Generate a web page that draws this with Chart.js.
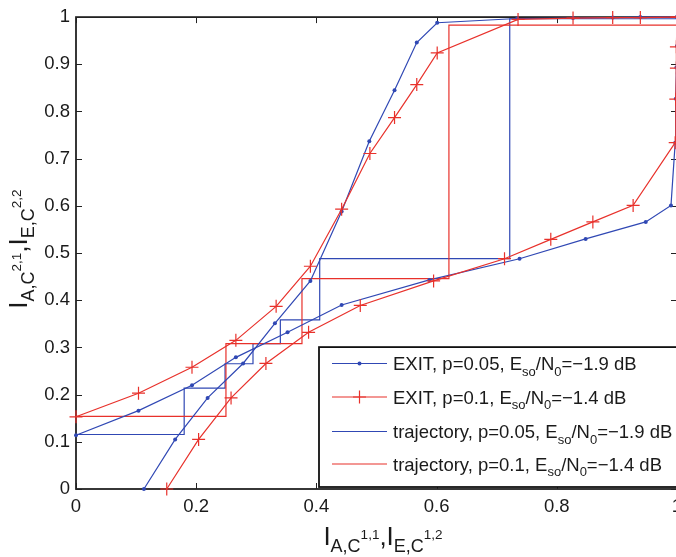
<!DOCTYPE html>
<html>
<head>
<meta charset="utf-8">
<script src="https://cdn.jsdelivr.net/npm/chart.js@4.4.1/dist/chart.umd.min.js"></script>
<style>
  html, body { margin: 0; padding: 0; background: #fff; }
  #wrap { width: 676px; height: 557px; overflow: hidden; }
  canvas { display: block; }
</style>
</head>
<body>
<div id="wrap"><canvas id="exitChart" width="700" height="557"></canvas></div>
<script>
// --- data ---
// EXIT curves, p = 0.05 (Eso/N0 = -1.9 dB)
const blueOuterX = [0, 0.104, 0.193, 0.266, 0.352, 0.442, 0.588, 0.738, 0.848, 0.948, 0.99, 0.997, 0.998, 0.999, 1.0, 1.0];
const blueOuterY = [0.114, 0.166, 0.22, 0.279, 0.332, 0.39, 0.443, 0.488, 0.53, 0.566, 0.601, 0.734, 0.827, 0.893, 0.939, 1.0];
const blueInnerX = [0.113, 0.165, 0.219, 0.278, 0.331, 0.39, 0.442, 0.488, 0.53, 0.567, 0.601, 0.734, 0.827, 0.893, 0.939, 1.0];
const blueInnerY = [0, 0.105, 0.193, 0.266, 0.351, 0.441, 0.588, 0.737, 0.845, 0.946, 0.988, 0.997, 0.998, 0.999, 1.0, 1.0];

// EXIT curves, p = 0.1 (Eso/N0 = -1.4 dB)
const redOuterX = [0, 0.104, 0.193, 0.266, 0.333, 0.39, 0.442, 0.489, 0.53, 0.567, 0.601, 0.7355, 0.827, 0.893, 0.939, 1.0];
const redOuterY = [0.153, 0.203, 0.258, 0.315, 0.387, 0.472, 0.593, 0.711, 0.787, 0.857, 0.924, 0.995, 0.998, 0.999, 0.999, 1.0];
const redInnerX = [0.151, 0.204, 0.258, 0.316, 0.387, 0.473, 0.595, 0.713, 0.79, 0.86, 0.927, 0.997, 0.998, 0.999, 0.999, 1.0];
const redInnerY = [0, 0.105, 0.193, 0.266, 0.332, 0.389, 0.441, 0.488, 0.529, 0.566, 0.601, 0.734, 0.826, 0.892, 0.937, 1.0];

// decoding trajectories (staircase)
const blueTrajX = [0, 0.18, 0.18, 0.248, 0.248, 0.2945, 0.2945, 0.34, 0.34, 0.4055, 0.4055, 0.7217, 0.7217, 1.0];
const blueTrajY = [0.1155, 0.1155, 0.2136, 0.2136, 0.2654, 0.2654, 0.308, 0.308, 0.3585, 0.3585, 0.488, 0.488, 0.9965, 0.9965];
const redTrajX = [0, 0.2495, 0.2495, 0.376, 0.376, 0.6205, 0.6205, 1.0];
const redTrajY = [0.154, 0.154, 0.308, 0.308, 0.446, 0.446, 0.983, 0.983];

const xTicks = [0, 0.2, 0.4, 0.6, 0.8, 1];
const yTicks = [0, 0.1, 0.2, 0.3, 0.4, 0.5, 0.6, 0.7, 0.8, 0.9, 1];

// rich-text labels: [text, kind]
const xTitle = [['I'], ['A,C', 'sub'], ['1,1', 'subsup'], [',I'], ['E,C', 'sub'], ['1,2', 'subsup']];
const yTitle = [['I'], ['A,C', 'sub'], ['2,1', 'subsup'], [',I'], ['E,C', 'sub'], ['2,2', 'subsup']];
const legendLabels = [
    [['EXIT, p=0.05, E'], ['so', 'sub'], ['/N'], ['0', 'sub'], ['=\u22121.9 dB']],
    [['EXIT, p=0.1, E'], ['so', 'sub'], ['/N'], ['0', 'sub'], ['=\u22121.4 dB']],
    [['trajectory, p=0.05, E'], ['so', 'sub'], ['/N'], ['0', 'sub'], ['=\u22121.9 dB']],
    [['trajectory, p=0.1, E'], ['so', 'sub'], ['/N'], ['0', 'sub'], ['=\u22121.4 dB']]
];

const BLUE = '#3048b4';
const RED = '#e8312b';
const FONT = '"Liberation Sans", Arial, Helvetica, sans-serif';

const toPoints = (xs, ys) => xs.map((x, i) => ({ x: x, y: ys[i] }));

// --- rich text helpers ---
const legendKinds = {
    main: { size: 18.5, dy: 0 },
    sub: { size: 13, dy: 5.5 }
};
const titleKinds = {
    main: { size: 26, dy: 0 },
    sub: { size: 18, dy: 7 },
    subsup: { size: 13.5, dy: -6 }
};

function richWidth(ctx, parts, kinds) {
    let w = 0;
    parts.forEach(([t, k]) => {
        ctx.font = kinds[k || 'main'].size + 'px ' + FONT;
        w += ctx.measureText(t).width;
    });
    return w;
}

function drawRich(ctx, parts, kinds, x, y, align) {
    let cx = align === 'center' ? x - richWidth(ctx, parts, kinds) / 2 : x;
    ctx.textAlign = 'left';
    ctx.textBaseline = 'alphabetic';
    parts.forEach(([t, k]) => {
        const kind = kinds[k || 'main'];
        ctx.font = kind.size + 'px ' + FONT;
        ctx.fillText(t, cx, y + kind.dy);
        cx += ctx.measureText(t).width;
    });
}

// --- axes frame with inward ticks on all four sides ---
const framePlugin = {
    id: 'frame',
    beforeDatasetsDraw(chart) {
        const { ctx, chartArea: a, scales } = chart;
        ctx.save();
        ctx.strokeStyle = '#222';
        ctx.lineWidth = 1;
        const len = 6;
        ctx.beginPath();
        xTicks.forEach(v => {
            const px = Math.round(scales.x.getPixelForValue(v)) + 0.5;
            ctx.moveTo(px, a.bottom); ctx.lineTo(px, a.bottom - len);
            ctx.moveTo(px, a.top); ctx.lineTo(px, a.top + len);
        });
        yTicks.forEach(v => {
            const py = Math.round(scales.y.getPixelForValue(v)) + 0.5;
            ctx.moveTo(a.left, py); ctx.lineTo(a.left + len, py);
            ctx.moveTo(a.right, py); ctx.lineTo(a.right - len, py);
        });
        ctx.stroke();
        ctx.lineWidth = 1.8;
        ctx.strokeRect(a.left, a.top, a.right - a.left, a.bottom - a.top);
        ctx.restore();
    },
    afterDraw(chart) {
        const { ctx, chartArea: a } = chart;
        ctx.save();
        ctx.fillStyle = '#1a1a1a';
        // x-axis title
        drawRich(ctx, xTitle, titleKinds, 383, a.bottom + 56, 'center');
        // y-axis title, rotated
        ctx.translate(a.left - 49, (a.top + a.bottom) / 2 - 4);
        ctx.rotate(-Math.PI / 2);
        drawRich(ctx, yTitle, titleKinds, 0, 0, 'center');
        ctx.restore();
    }
};

// --- legend box with sub/superscript labels ---
const legendPlugin = {
    id: 'richLegend',
    afterDatasetsDraw(chart) {
        const { ctx, chartArea: a } = chart;
        const box = { left: a.left + 243, top: a.top + 330, bottom: a.bottom - 2 };
        ctx.save();
        ctx.fillStyle = '#fff';
        ctx.fillRect(box.left, box.top, 400, box.bottom - box.top);
        ctx.strokeStyle = '#111';
        ctx.lineWidth = 1.8;
        ctx.strokeRect(box.left, box.top, 400, box.bottom - box.top);

        const rowY = [363.5, 397, 431.5, 464];
        const styles = [
            { color: BLUE, marker: 'dot' },
            { color: RED, marker: 'cross' },
            { color: BLUE, marker: null },
            { color: RED, marker: null }
        ];
        const x1 = box.left + 13, x2 = box.left + 68;
        legendLabels.forEach((parts, i) => {
            const y = rowY[i];
            const s = styles[i];
            ctx.strokeStyle = s.color;
            ctx.lineWidth = 1.2;
            ctx.beginPath();
            ctx.moveTo(x1, y); ctx.lineTo(x2, y);
            ctx.stroke();
            const mx = (x1 + x2) / 2;
            if (s.marker === 'dot') {
                ctx.fillStyle = s.color;
                ctx.beginPath();
                ctx.arc(mx, y, 2, 0, Math.PI * 2);
                ctx.fill();
            } else if (s.marker === 'cross') {
                ctx.beginPath();
                ctx.moveTo(mx - 6.5, y); ctx.lineTo(mx + 6.5, y);
                ctx.moveTo(mx, y - 6.5); ctx.lineTo(mx, y + 6.5);
                ctx.stroke();
            }
            ctx.fillStyle = '#1a1a1a';
            drawRich(ctx, parts, legendKinds, x2 + 6, y + 6.5, 'left');
        });
        ctx.restore();
    }
};

const exitStyle = color => ({
    borderColor: color,
    borderWidth: 1.2,
    showLine: true,
    tension: 0,
    clip: false
});

const datasets = [
    Object.assign(exitStyle(RED), {
        label: 'EXIT, p=0.1', data: toPoints(redOuterX, redOuterY),
        pointStyle: 'cross', pointRadius: 6.5, pointBorderWidth: 1.2, pointBorderColor: RED
    }),
    Object.assign(exitStyle(RED), {
        label: 'EXIT, p=0.1 (transposed)', data: toPoints(redInnerX, redInnerY),
        pointStyle: 'cross', pointRadius: 6.5, pointBorderWidth: 1.2, pointBorderColor: RED
    }),
    Object.assign(exitStyle(BLUE), {
        label: 'EXIT, p=0.05', data: toPoints(blueOuterX, blueOuterY),
        pointStyle: 'circle', pointRadius: 2, pointBorderWidth: 0, pointBackgroundColor: BLUE
    }),
    Object.assign(exitStyle(BLUE), {
        label: 'EXIT, p=0.05 (transposed)', data: toPoints(blueInnerX, blueInnerY),
        pointStyle: 'circle', pointRadius: 2, pointBorderWidth: 0, pointBackgroundColor: BLUE
    }),
    Object.assign(exitStyle(RED), {
        label: 'trajectory, p=0.1', data: toPoints(redTrajX, redTrajY), pointRadius: 0
    }),
    Object.assign(exitStyle(BLUE), {
        label: 'trajectory, p=0.05', data: toPoints(blueTrajX, blueTrajY), pointRadius: 0
    })
];

const tickFont = { family: FONT, size: 18.5 };

new Chart(document.getElementById('exitChart'), {
    type: 'scatter',
    data: { datasets: datasets },
    options: {
        responsive: false,
        animation: false,
        events: [],
        layout: { padding: { top: 13, right: 23, left: 0, bottom: 0 } },
        plugins: { legend: { display: false }, tooltip: { enabled: false } },
        scales: {
            x: {
                type: 'linear', min: 0, max: 1,
                afterBuildTicks: s => { s.ticks = xTicks.map(v => ({ value: v })); },
                afterFit: s => { s.height = 68; },
                grid: { display: false, drawTicks: false },
                border: { display: false },
                ticks: { color: '#1a1a1a', font: tickFont, padding: 7, maxRotation: 0, callback: v => String(v) }
            },
            y: {
                type: 'linear', min: 0, max: 1,
                afterBuildTicks: s => { s.ticks = yTicks.map(v => ({ value: v })); },
                afterFit: s => { s.width = 76; },
                grid: { display: false, drawTicks: false },
                border: { display: false },
                ticks: { color: '#1a1a1a', font: tickFont, padding: 6, callback: v => String(v) }
            }
        }
    },
    plugins: [framePlugin, legendPlugin]
});
</script>
</body>
</html>
